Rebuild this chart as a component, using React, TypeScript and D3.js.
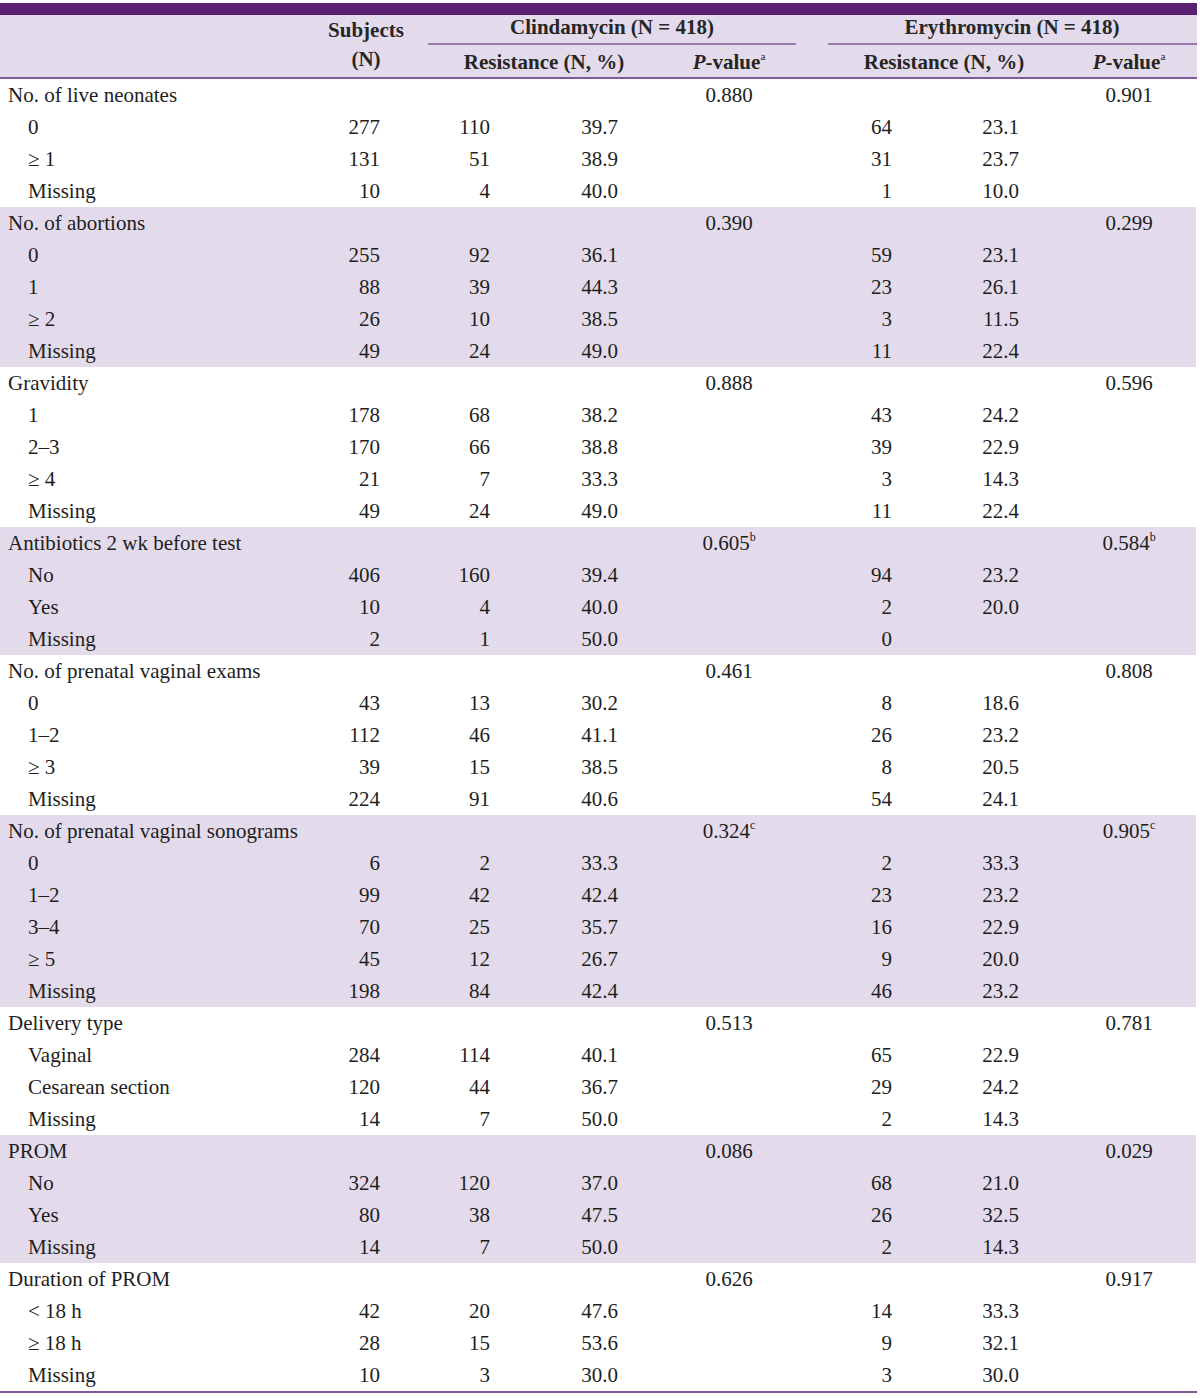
import React from 'react';
import * as d3 from 'd3';

// [label, subjects, clinN, clinPct, eryN, eryPct]
type Row = [string, number, number, number, number, number | null];

const groupLabels = [
  'No. of live neonates',
  'No. of abortions',
  'Gravidity',
  'Antibiotics 2 wk before test',
  'No. of prenatal vaginal exams',
  'No. of prenatal vaginal sonograms',
  'Delivery type',
  'PROM',
  'Duration of PROM',
];
const pClin = ['0.880', '0.390', '0.888', '0.605', '0.461', '0.324', '0.513', '0.086', '0.626'];
const pEry = ['0.901', '0.299', '0.596', '0.584', '0.808', '0.905', '0.781', '0.029', '0.917'];
const pNote = ['', '', '', 'b', '', 'c', '', '', ''];

const liveNeonates: Row[] = [
  ['0', 277, 110, 39.7, 64, 23.1],
  ['≥ 1', 131, 51, 38.9, 31, 23.7],
  ['Missing', 10, 4, 40.0, 1, 10.0],
];
const abortions: Row[] = [
  ['0', 255, 92, 36.1, 59, 23.1],
  ['1', 88, 39, 44.3, 23, 26.1],
  ['≥ 2', 26, 10, 38.5, 3, 11.5],
  ['Missing', 49, 24, 49.0, 11, 22.4],
];
const gravidity: Row[] = [
  ['1', 178, 68, 38.2, 43, 24.2],
  ['2–3', 170, 66, 38.8, 39, 22.9],
  ['≥ 4', 21, 7, 33.3, 3, 14.3],
  ['Missing', 49, 24, 49.0, 11, 22.4],
];
const antibiotics: Row[] = [
  ['No', 406, 160, 39.4, 94, 23.2],
  ['Yes', 10, 4, 40.0, 2, 20.0],
  ['Missing', 2, 1, 50.0, 0, null],
];
const vaginalExams: Row[] = [
  ['0', 43, 13, 30.2, 8, 18.6],
  ['1–2', 112, 46, 41.1, 26, 23.2],
  ['≥ 3', 39, 15, 38.5, 8, 20.5],
  ['Missing', 224, 91, 40.6, 54, 24.1],
];
const sonograms: Row[] = [
  ['0', 6, 2, 33.3, 2, 33.3],
  ['1–2', 99, 42, 42.4, 23, 23.2],
  ['3–4', 70, 25, 35.7, 16, 22.9],
  ['≥ 5', 45, 12, 26.7, 9, 20.0],
  ['Missing', 198, 84, 42.4, 46, 23.2],
];
const deliveryType: Row[] = [
  ['Vaginal', 284, 114, 40.1, 65, 22.9],
  ['Cesarean section', 120, 44, 36.7, 29, 24.2],
  ['Missing', 14, 7, 50.0, 2, 14.3],
];
const prom: Row[] = [
  ['No', 324, 120, 37.0, 68, 21.0],
  ['Yes', 80, 38, 47.5, 26, 32.5],
  ['Missing', 14, 7, 50.0, 2, 14.3],
];
const promDuration: Row[] = [
  ['< 18 h', 42, 20, 47.6, 14, 33.3],
  ['≥ 18 h', 28, 15, 53.6, 9, 32.1],
  ['Missing', 10, 3, 30.0, 3, 30.0],
];
const groupRows = [liveNeonates, abortions, gravidity, antibiotics, vaginalExams, sonograms, deliveryType, prom, promDuration];

const W = 1200;
const H = 1398;
const headerTop = 15;
const headerBottom = 79;
const rowH = 32;
const FONT = '"Liberation Serif", "Times New Roman", serif';
const DARK = '#58206f';
const LINE = '#7d5b96';
const SHADE = '#e3dbeb';

// column anchors
const col = {
  label: 8,
  sub: 28,
  subjects: 380,
  clinN: 490,
  clinPct: 618,
  clinP: 729,
  eryN: 892,
  eryPct: 1019,
  eryP: 1129,
};

type Flat = { kind: 'group'; g: number } | { kind: 'row'; g: number; r: Row };

export default function App() {
  const flat: Flat[] = [];
  groupRows.forEach((rows, g) => {
    flat.push({ kind: 'group', g });
    rows.forEach(r => flat.push({ kind: 'row', g, r }));
  });

  const y = d3.scaleLinear().domain([0, flat.length]).range([headerBottom, headerBottom + flat.length * rowH]);
  const fmt = d3.format('.1f');
  const tableBottom = y(flat.length);

  // shaded bands for alternate groups
  const bands: { y0: number; y1: number }[] = [];
  let idx = 0;
  groupRows.forEach((rows, g) => {
    const n = rows.length + 1;
    if (g % 2 === 1) bands.push({ y0: y(idx), y1: y(idx + n) });
    idx += n;
  });

  const txt = (i: number) => y(i) + rowH / 2 + 7;

  const pText = (x: number, yy: number, v: string, note: string, key: string) => (
    <text key={key} x={x} y={yy} textAnchor="middle">
      {v}
      {note && (
        <tspan fontSize={12} dy={-9}>
          {note}
        </tspan>
      )}
    </text>
  );

  return (
    <svg width={W} height={H} style={{ position: 'absolute', left: 0, top: 0, background: '#fff' }} fontFamily={FONT} fontSize={21} fill="#1e1e1e">
      <rect x={0} y={headerTop} width={1197} height={headerBottom - headerTop} fill={SHADE} />
      <rect x={0} y={3} width={1197} height={headerTop - 3} fill={DARK} />
      {bands.map((b, i) => (
        <rect key={i} x={0} y={b.y0} width={1196} height={b.y1 - b.y0} fill={SHADE} />
      ))}

      {/* header */}
      <g fontWeight="bold" fill="#262626">
        <text x={366} y={37} textAnchor="middle">Subjects</text>
        <text x={366} y={66} textAnchor="middle">(N)</text>
        <text x={612} y={34} textAnchor="middle">Clindamycin (N = 418)</text>
        <text x={1012} y={34} textAnchor="middle">Erythromycin (N = 418)</text>
        <text x={544} y={69} textAnchor="middle">Resistance (N, %)</text>
        <text x={944} y={69} textAnchor="middle">Resistance (N, %)</text>
        {[col.clinP, col.eryP].map(x => (
          <text key={x} x={x} y={69} textAnchor="middle">
            <tspan fontStyle="italic">P</tspan>-value
            <tspan fontSize={11} dy={-9} fontWeight="normal">a</tspan>
          </text>
        ))}
      </g>
      <line x1={428} x2={796} y1={44} y2={44} stroke={LINE} strokeWidth={1.5} />
      <line x1={828} x2={1197} y1={44} y2={44} stroke={LINE} strokeWidth={1.5} />
      <line x1={0} x2={1197} y1={headerBottom - 1} y2={headerBottom - 1} stroke={LINE} strokeWidth={2} />

      {/* body */}
      {flat.map((f, i) => {
        const ty = txt(i);
        if (f.kind === 'group') {
          return (
            <g key={i}>
              <text x={col.label} y={ty}>{groupLabels[f.g]}</text>
              {pText(col.clinP, ty, pClin[f.g], pNote[f.g], 'pc')}
              {pText(col.eryP, ty, pEry[f.g], pNote[f.g], 'pe')}
            </g>
          );
        }
        const [label, subj, cN, cP, eN, eP] = f.r;
        return (
          <g key={i}>
            <text x={col.sub} y={ty}>{label}</text>
            <text x={col.subjects} y={ty} textAnchor="end">{subj}</text>
            <text x={col.clinN} y={ty} textAnchor="end">{cN}</text>
            <text x={col.clinPct} y={ty} textAnchor="end">{fmt(cP)}</text>
            <text x={col.eryN} y={ty} textAnchor="end">{eN}</text>
            {eP !== null && <text x={col.eryPct} y={ty} textAnchor="end">{fmt(eP)}</text>}
          </g>
        );
      })}

      <line x1={0} x2={1197} y1={tableBottom + 1} y2={tableBottom + 1} stroke={LINE} strokeWidth={2} />
    </svg>
  );
}
